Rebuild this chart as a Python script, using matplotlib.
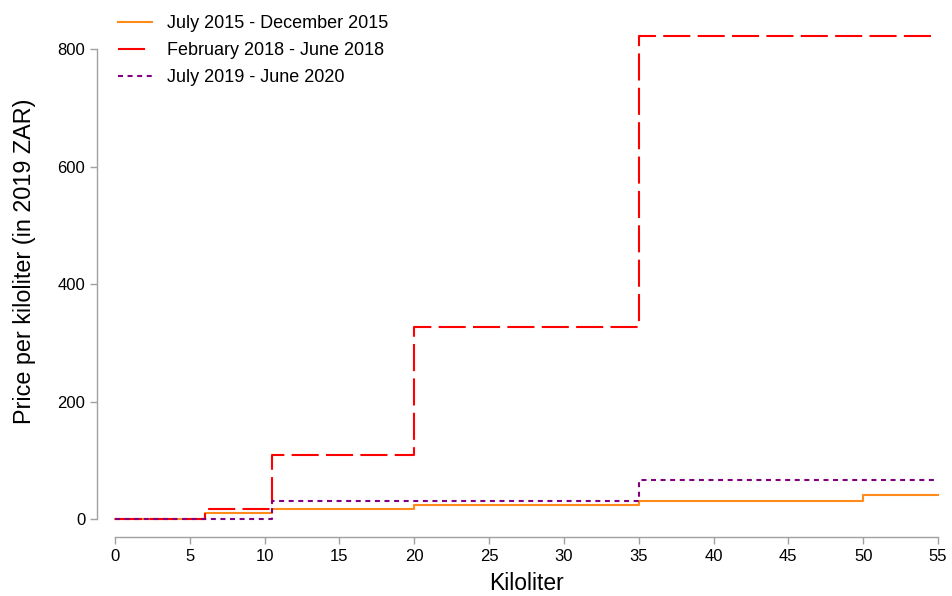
import matplotlib
matplotlib.use("Agg")
import matplotlib.pyplot as plt

plt.rcParams['font.family'] = ['Liberation Sans', 'DejaVu Sans']

# tier boundaries (kiloliter) and price per kiloliter in each tier
kl_2015 = [0, 6, 10.5, 20, 35, 50, 55]
price_2015 = [0, 10.7, 17, 24.5, 31, 41.4, 41.4]

kl_2018 = [0, 6, 10.5, 20, 35, 55]
price_2018 = [0, 17, 109, 326, 822, 822]

kl_2019 = [0, 10.5, 35, 55]
price_2019 = [0, 30, 66, 66]

labels = ["July 2015 - December 2015", "February 2018 - June 2018", "July 2019 - June 2020"]

fig = plt.figure(figsize=(9.53, 5.96), dpi=100)
ax = fig.add_axes([115 / 953, 77 / 596, 823 / 953, 514 / 596])

ax.plot(kl_2015, price_2015, drawstyle='steps-post', color='#FF8C1A', lw=1.5,
        label=labels[0], clip_on=False)
ax.plot(kl_2018, price_2018, drawstyle='steps-post', color='#FF0000', lw=1.5,
        dashes=(13, 3.5), label=labels[1], clip_on=False)
ax.plot(kl_2019, price_2019, drawstyle='steps-post', color='#800080', lw=1.5,
        dashes=(2.4, 2.2), label=labels[2], clip_on=False)

ax.set_xlim(0, 55)
ax.set_ylim(0, 875)
ax.set_xticks(range(0, 56, 5))
ax.set_yticks([0, 200, 400, 600, 800])

for s in ['top', 'right']:
    ax.spines[s].set_visible(False)
for s in ['left', 'bottom']:
    ax.spines[s].set_position(('outward', 13))
    ax.spines[s].set_color('#A0A0A0')
    ax.spines[s].set_linewidth(1.0)
ax.spines['left'].set_bounds(0, 800)
ax.spines['bottom'].set_bounds(0, 55)
ax.tick_params(colors='#A0A0A0', labelcolor='black', labelsize=12, length=5, width=1.0)

ax.set_xlabel("Kiloliter", fontsize=16.5, labelpad=6)
ax.set_ylabel("Price per kiloliter (in 2019 ZAR)", fontsize=16.8)
ax.yaxis.set_label_coords(-0.096, (519 - 261) / 514)

ax.legend(loc='upper left', bbox_to_anchor=(111 / 953, 1 - 8 / 596), bbox_transform=fig.transFigure,
          frameon=False, fontsize=13, handlelength=1.85, labelspacing=0.55, handletextpad=0.85,
          borderaxespad=0)

fig.savefig("out.png", dpi=100)
